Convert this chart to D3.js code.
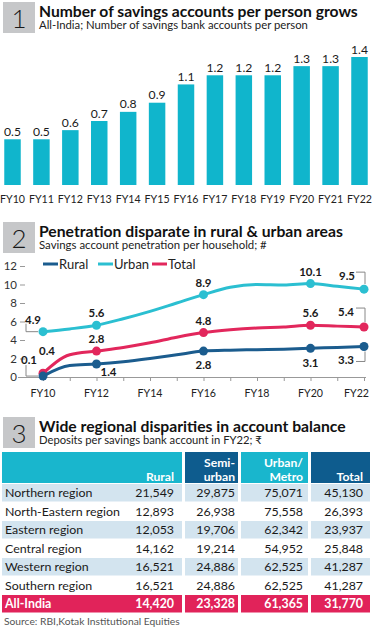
<!DOCTYPE html>
<html><head><meta charset="utf-8">
<script src="https://cdn.jsdelivr.net/npm/d3@7"></script>
<style>
body{margin:0;background:#fff;}
svg{display:block;}
text{font-family:Lato,"Open Sans",sans-serif;}
</style></head>
<body>
<svg id="c" width="374" height="628"></svg>
<script>
// ---------- DATA ----------
const barYears = ["FY10","FY11","FY12","FY13","FY14","FY15","FY16","FY17","FY18","FY19","FY20","FY21","FY22"];
const accountsPerPerson = [0.5,0.5,0.6,0.7,0.8,0.9,1.1,1.2,1.2,1.2,1.3,1.3,1.4];

const lineYears = [10,11,12,13,14,15,16,17,18,19,20,21,22];
const rural = [0.1,1.25,1.4,1.65,2.0,2.4,2.8,2.9,2.95,3.0,3.1,3.2,3.3];
const urban = [4.9,5.2,5.6,6.3,7.1,8.0,8.9,9.7,10.0,9.95,10.1,9.8,9.5];
const total = [0.4,2.4,2.8,3.2,3.7,4.3,4.8,5.1,5.3,5.4,5.6,5.5,5.4];
const markedIdx = [0,2,6,10,12];
const lineTickYears = [10,12,14,16,18,20,22];
const yTicks = [0,2,4,6,8,10,12];

const tableHeads = [["Rural"],["Semi-","urban"],["Urban/","Metro"],["Total"]];
const regions = ["Northern region","North-Eastern region","Eastern region","Central region","Western region","Southern region"];
const ruralDep = [21549,12893,12053,14162,16521,16521];
const semiDep  = [29875,26938,19706,19214,24886,24886];
const urbanDep = [75071,75558,62342,54952,62525,62525];
const totalDep = [45130,26393,23937,25848,41287,41287];
const allIndiaLabel = "All-India";
const allIndia = [14420,23328,61365,31770];

// ---------- HELPERS ----------
const svg = d3.select("#c");
const FONT = 'Lato,"Open Sans",sans-serif';
function fitSize(txt, weight, target, base){
  const t = svg.append("text").attr("font-size",base).attr("font-weight",weight).text(txt);
  const w = t.node().getComputedTextLength(); t.remove();
  return base*target/w;
}
function header(num, y0, title, titleW, sub, subW){
  svg.append("rect").attr("x",3).attr("y",y0).attr("width",32).attr("height",31).attr("fill","#c6c7c9");
  svg.append("text").attr("x",19).attr("y",y0+26).attr("text-anchor","middle")
     .attr("font-size",26).attr("font-weight",300).attr("fill","#1a1a1a").text(num);
  const fs = fitSize(title,"bold",titleW,16);
  svg.append("text").attr("x",39).attr("y",y0+14.5).attr("font-size",fs).attr("font-weight","bold").attr("fill","#111").text(title);
  const fs2 = fitSize(sub,"normal",subW,11);
  svg.append("text").attr("x",39).attr("y",y0+27).attr("font-size",fs2).attr("fill","#222").text(sub);
}

// ---------- SECTION 1 ----------
header("1", 2, "Number of savings accounts per person grows", 319, "All-India; Number of savings bank accounts per person", 269);

const xb = d3.scaleBand().domain(barYears).range([-1.95, 373.95]).paddingInner(0.43).paddingOuter(0.215);
const yb = d3.scaleLinear().domain([0,1.4]).range([185, 57]);
const barColor = "#10b5cc";
svg.append("g").selectAll("rect").data(accountsPerPerson).join("rect")
  .attr("x",(d,i)=>xb(barYears[i])).attr("width",xb.bandwidth())
  .attr("y",d=>yb(d)).attr("height",d=>yb(0)-yb(d)).attr("fill",barColor);
const valFs = fitSize("0.5","normal",17,12);
svg.append("g").selectAll("text").data(accountsPerPerson).join("text")
  .attr("x",(d,i)=>xb(barYears[i])+xb.bandwidth()/2).attr("y",d=>yb(d)-3.5)
  .attr("text-anchor","middle").attr("font-size",valFs).attr("fill","#1a1a1a").text(d=>d3.format(".1f")(d));
const xFs = fitSize("FY10","normal",25,11);
const xAxisB = svg.append("g").attr("transform","translate(0,185)")
  .call(d3.axisBottom(xb).tickSize(0).tickPadding(10));
xAxisB.select(".domain").remove();
xAxisB.selectAll("text").attr("font-size",xFs).attr("fill","#222").style("font-family",FONT);

// ---------- SECTION 2 ----------
header("2", 222, "Penetration disparate in rural & urban areas", 304, "Savings account penetration per household; #", 228);

const xl = d3.scaleLinear().domain([10,22]).range([43,364]);
const yl = d3.scaleLinear().domain([0,12]).range([377,266]);
const cRural="#1b5c8e", cUrban="#2bbfd1", cTotal="#e2275c";

// y ticks
const yAx = svg.append("g").attr("transform","translate(25,0)")
  .call(d3.axisLeft(yl).tickValues(yTicks).tickSize(5).tickPadding(3));
yAx.select(".domain").remove();
yAx.selectAll("line").attr("stroke","#999");
yAx.selectAll("text").attr("font-size",11.5).attr("fill","#333").style("font-family",FONT);
// x axis
const xAx = svg.append("g").attr("transform","translate(0,377)")
  .call(d3.axisBottom(xl).tickValues(lineYears).tickSize(4).tickFormat(""));
xAx.select(".domain").attr("d","M18,0.5H366").attr("stroke","#999");
xAx.selectAll("line").attr("stroke","#999");
svg.append("g").selectAll("text").data(lineTickYears).join("text")
  .attr("x",d=>d===22?369:xl(d)).attr("y",397)
  .attr("text-anchor",d=>d===22?"end":"middle")
  .attr("font-size",xFs).attr("fill","#222").text(d=>"FY"+d);

// legend
const legend = [["Rural",cRural,43],["Urban",cUrban,98],["Total",cTotal,152]];
legend.forEach(([n,c,x])=>{
  svg.append("line").attr("x1",x).attr("x2",x+15).attr("y1",264).attr("y2",264).attr("stroke",c).attr("stroke-width",3);
  svg.append("text").attr("x",x+16).attr("y",268.5).attr("font-size",13).attr("fill","#222").text(n);
});

const line = d3.line().x((d,i)=>xl(lineYears[i])).y(d=>yl(d)).curve(d3.curveMonotoneX);
const series = [
  {vals:urban,color:cUrban, labels:[
    {dx:-10,dy:-12,leader:[[-17,-8],[-17,0],[-5,0]]},
    {dx:0,dy:-12},{dx:0,dy:-12},{dx:0,dy:-12},
    {dx:-17,dy:-13,leader:[[-8,-17],[1,-17],[1,-5]]}]},
  {vals:total,color:cTotal, labels:[
    {dx:4,dy:-22},
    {dx:0,dy:-12},{dx:0,dy:-12},{dx:0,dy:-12},
    {dx:-18,dy:-15,leader:[[-8,-19],[1,-19],[1,-5]]}]},
  {vals:rural,color:cRural, labels:[
    {dx:-14,dy:-16,leader:[[-17,-11],[-17,0],[-5,0]]},
    {dx:12,dy:8},{dx:0,dy:14},{dx:0,dy:15},
    {dx:-18,dy:14,leader:[[-8,15],[1,15],[1,5]]}]}
];
const lblFs = fitSize("4.9","bold",16,12.5);
series.forEach(s=>{
  svg.append("path").attr("d",line(s.vals)).attr("fill","none").attr("stroke",s.color).attr("stroke-width",3);
  markedIdx.forEach((idx,k)=>{
    const px=xl(lineYears[idx]), py=yl(s.vals[idx]);
    svg.append("circle").attr("cx",px).attr("cy",py).attr("r",4.5).attr("fill",s.color);
    const L=s.labels[k];
    if(L.leader){
      svg.append("path").attr("d","M"+L.leader.map(p=>(px+p[0])+","+(py+p[1])).join("L"))
        .attr("fill","none").attr("stroke","#888").attr("stroke-width",1);
    }
    svg.append("text").attr("x",px+L.dx).attr("y",py+L.dy).attr("dy","0.35em")
      .attr("text-anchor","middle").attr("font-size",lblFs).attr("font-weight","bold").attr("fill","#1a1a1a")
      .text(d3.format(".1f")(s.vals[idx]));
  });
});

// ---------- SECTION 3 ----------
header("3", 417, "Wide regional disparities in account balance", 307, "Deposits per savings bank account in FY22; ₹", 223);

const cols = [{x:2,w:180,r:174},{x:185,w:53,r:235},{x:241,w:67,r:303},{x:311,w:59,r:363}];
const cTeal="#19b6cd", cDark="#0e5c8e", cLight="#d3e4ef", cRed="#e1235a";
const headColors=[cTeal,cDark,cTeal,cDark];
const tFs = fitSize("North-Eastern region","normal",115,12.5);
const hFs = fitSize("Urban/","bold",39,12.5);
cols.forEach((c,i)=>{
  svg.append("rect").attr("x",c.x).attr("y",452).attr("width",c.w).attr("height",31).attr("fill",headColors[i]);
  const lines = tableHeads[i];
  lines.forEach((t,j)=>{
    svg.append("text").attr("x",c.r).attr("y",481 - (lines.length-1-j)*14.5).attr("text-anchor","end")
      .attr("font-size",hFs).attr("font-weight","bold").attr("fill","#fff").text(t);
  });
});
const fmt = d3.format(",");
regions.forEach((r,i)=>{
  const top = 484 + i*18.5;
  if(i%2===0){
    cols.forEach(c=>svg.append("rect").attr("x",c.x).attr("y",top).attr("width",c.w).attr("height",17.5).attr("fill",cLight));
  }
  svg.append("text").attr("x",5).attr("y",top+13.3).attr("font-size",tFs).attr("fill","#1a1a1a").text(r);
  [ruralDep[i],semiDep[i],urbanDep[i],totalDep[i]].forEach((v,k)=>{
    svg.append("text").attr("x",cols[k].r).attr("y",top+13.3).attr("text-anchor","end")
      .attr("font-size",tFs).attr("fill","#1a1a1a").text(fmt(v));
  });
});
{
  const top = 484 + 6*18.5;
  cols.forEach(c=>svg.append("rect").attr("x",c.x).attr("y",top).attr("width",c.w).attr("height",17.5).attr("fill",cRed));
  svg.append("text").attr("x",5).attr("y",top+13.3).attr("font-size",tFs).attr("font-weight","bold").attr("fill","#fff").text(allIndiaLabel);
  allIndia.forEach((v,k)=>{
    svg.append("text").attr("x",cols[k].r).attr("y",top+13.3).attr("text-anchor","end")
      .attr("font-size",tFs).attr("font-weight","bold").attr("fill","#fff").text(fmt(v));
  });
}
const sFs = fitSize("Source: RBI,Kotak Institutional Equities","normal",176,10.5);
svg.append("text").attr("x",4).attr("y",625).attr("font-size",sFs).attr("fill","#555").text("Source: RBI,Kotak Institutional Equities");
</script>
</body></html>
